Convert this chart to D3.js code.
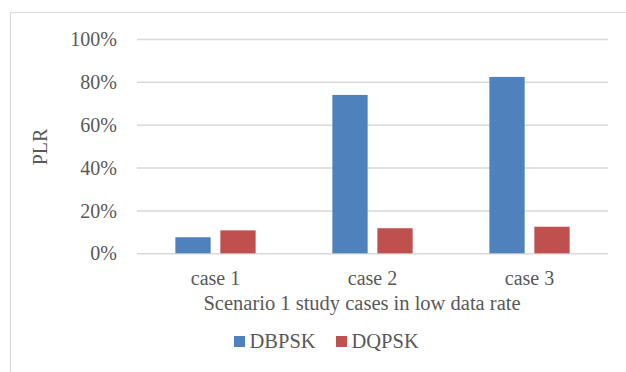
<!DOCTYPE html>
<html>
<head>
<meta charset="utf-8">
<script src="https://cdn.jsdelivr.net/npm/d3@7"></script>
<style>
  html, body { margin: 0; padding: 0; background: #fff; }
  svg { display: block; }
  svg text { font-family: "Liberation Serif", "Times New Roman", serif !important; fill: #595959; }
</style>
</head>
<body>
<svg id="chart" width="626" height="372"></svg>
<script>
// Packet loss ratio per study case
const categories = ["case 1", "case 2", "case 3"];
const seriesNames = ["DBPSK", "DQPSK"];
const dbpsk = [0.075, 0.739, 0.823];
const dqpsk = [0.107, 0.117, 0.124];
const yTicks = [0, 0.2, 0.4, 0.6, 0.8, 1.0];
const colors = ["#4F81BD", "#C0504D"];

const svg = d3.select("#chart");
const W = 626, H = 372;
const plot = { left: 137, right: 608, top: 39, bottom: 253.3 };
const serif = '"Liberation Serif", "Times New Roman", serif';

// chart frame (top and left edges visible)
svg.append("path")
  .attr("d", `M10.5,${H} V12.5 H${W}`)
  .attr("fill", "none")
  .attr("stroke", "#d9d9d9")
  .attr("stroke-width", 1.2);

const x0 = d3.scaleBand().domain(categories).range([plot.left, plot.right]).padding(0);
const x1 = d3.scaleBand().domain(seriesNames).range([0, x0.bandwidth()])
  .paddingInner(0.216).paddingOuter(0.853);
const y = d3.scaleLinear().domain([0, 1]).range([plot.bottom, plot.top]);

// gridlines + y tick labels via axis
const yAxis = d3.axisLeft(y).tickValues(yTicks).tickFormat(d3.format(".0%"))
  .tickSize(-(plot.right - plot.left)).tickPadding(20);
const gy = svg.append("g").attr("transform", `translate(${plot.left},0)`).call(yAxis)
  .attr("font-family", null);
gy.select(".domain").remove();
gy.selectAll(".tick line").attr("stroke", "#d9d9d9").attr("stroke-width", 1.5);
gy.selectAll(".tick text")
  .style("font-family", serif).style("font-size", "20px")
  .attr("fill", "#595959")
  .attr("dy", "0.33em");

// bars
const rows = categories.map((c, i) => ({ cat: c, vals: [dbpsk[i], dqpsk[i]] }));
const groups = svg.append("g").selectAll("g").data(rows).join("g")
  .attr("transform", d => `translate(${x0(d.cat)},0)`);
groups.selectAll("rect")
  .data(d => d.vals.map((v, k) => ({ name: seriesNames[k], v, k })))
  .join("rect")
  .attr("x", d => x1(d.name))
  .attr("width", x1.bandwidth())
  .attr("y", d => y(d.v))
  .attr("height", d => y(0) - y(d.v))
  .attr("fill", d => colors[d.k]);

// x category labels
const xAxis = d3.axisBottom(x0).tickSize(0).tickPadding(0);
const gx = svg.append("g").attr("transform", `translate(0,${plot.bottom})`).call(xAxis)
  .attr("font-family", null);
gx.select(".domain").remove();
gx.selectAll(".tick text")
  .style("font-family", serif).style("font-size", "20px")
  .attr("fill", "#595959")
  .attr("dy", null).attr("y", 32);

// axis titles
svg.append("text")
  .attr("x", 362).attr("y", 310)
  .attr("text-anchor", "middle")
  .style("font-family", serif).style("font-size", "20.5px")
  .text("Scenario 1 study cases in low data rate");

svg.append("text")
  .attr("transform", `translate(47,147) rotate(-90)`)
  .attr("text-anchor", "middle")
  .style("font-family", serif).style("font-size", "20px")
  .text("PLR");

// legend
const legendX = [234, 336];
const lg = svg.append("g").selectAll("g").data(seriesNames).join("g")
  .attr("transform", (d, i) => `translate(${legendX[i]},336)`);
lg.append("rect").attr("width", 11).attr("height", 11).attr("fill", (d, i) => colors[i]);
lg.append("text").attr("x", 15.5).attr("y", 12)
  .style("font-family", serif).style("font-size", "20.5px")
  .text(d => d);
</script>
</body>
</html>
